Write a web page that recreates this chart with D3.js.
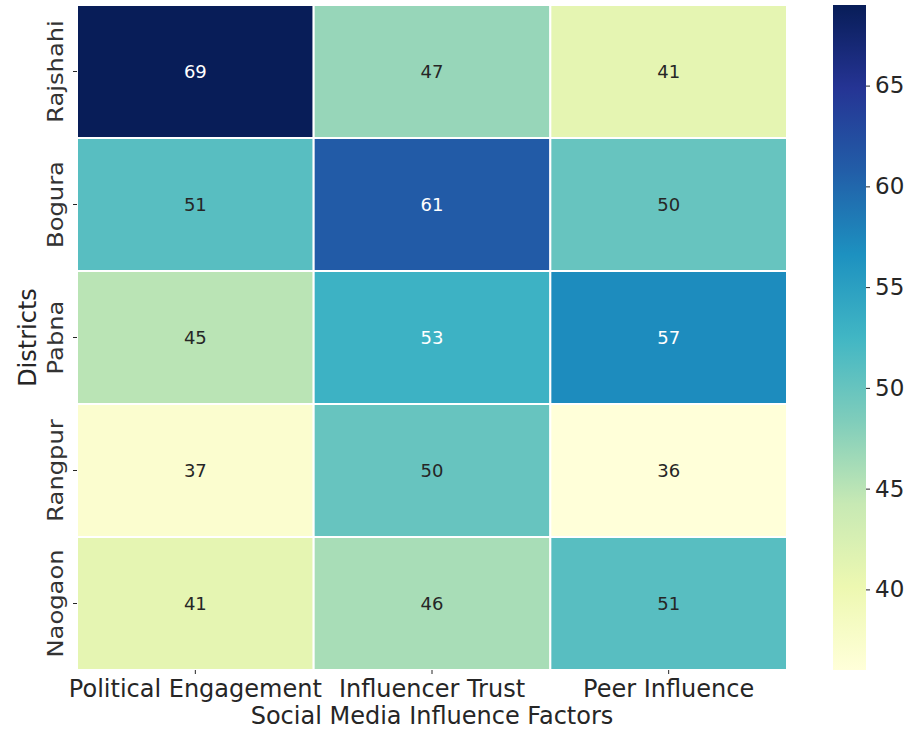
<!DOCTYPE html>
<html><head><meta charset="utf-8">
<script src="https://cdn.jsdelivr.net/npm/d3@7"></script>
<style>body{margin:0;background:#fff}svg{display:block}text{font-family:"DejaVu Sans",sans-serif}</style>
</head><body><svg id="c" width="904" height="732"></svg>
<script>
const districts = ["Rajshahi","Bogura","Pabna","Rangpur","Naogaon"];
const factors = ["Political Engagement","Influencer Trust","Peer Influence"];
const politicalEngagement = [69,51,45,37,41];
const influencerTrust = [47,61,53,50,46];
const peerInfluence = [41,50,57,36,51];
const colorbarTicks = [40,45,50,55,60,65];
const ylgnbu = ["#ffffd9","#edf8b1","#c7e9b4","#7fcdbb","#41b6c4","#1d91c0","#225ea8","#253494","#081d58"];

const series = [politicalEngagement, influencerTrust, peerInfluence];
const cells = [];
districts.forEach((d,i)=>factors.forEach((f,j)=>cells.push({d,f,v:series[j][i]})));
const vmin = d3.min(cells,c=>c.v), vmax = d3.max(cells,c=>c.v);
const color = d3.scaleLinear().domain(ylgnbu.map((_,k)=>vmin+(vmax-vmin)*k/(ylgnbu.length-1))).range(ylgnbu).clamp(true);

const svg = d3.select("#c");
const L=77,R=787,T=5,B=670;
const x = d3.scaleBand().domain(factors).range([L,R]);
const y = d3.scaleBand().domain(districts).range([T,B]);

svg.append("g").selectAll("rect").data(cells).join("rect")
  .attr("x",c=>x(c.f)).attr("y",c=>y(c.d))
  .attr("width",x.bandwidth()).attr("height",y.bandwidth())
  .attr("fill",c=>color(c.v)).attr("stroke","#fff").attr("stroke-width",2);

function lum(c){const r=d3.rgb(c);const f=v=>{v/=255;return v<=0.03928?v/12.92:Math.pow((v+0.055)/1.055,2.4)};return 0.2126*f(r.r)+0.7152*f(r.g)+0.0722*f(r.b);}
svg.append("g").selectAll("text").data(cells).join("text")
  .attr("x",c=>x(c.f)+x.bandwidth()/2).attr("y",c=>y(c.d)+y.bandwidth()/2)
  .attr("text-anchor","middle").attr("dominant-baseline","central")
  .attr("font-size",18)
  .attr("fill",c=>lum(color(c.v))>0.408?"#262626":"#ffffff")
  .text(c=>c.v);

// axes
const xa = svg.append("g").attr("transform",`translate(0,${B})`)
  .call(d3.axisBottom(x).tickSize(4).tickPadding(6));
xa.select(".domain").remove();
xa.selectAll("text").attr("font-size",24).attr("fill","#262626");
xa.selectAll("line").attr("stroke","#262626");

const ya = svg.append("g").attr("transform",`translate(${L},0)`)
  .call(d3.axisLeft(y).tickSize(4).tickPadding(6));
ya.select(".domain").remove();
ya.selectAll("line").attr("stroke","#262626");
ya.selectAll("text").attr("font-size",22).attr("fill","#333")
  .attr("text-anchor","middle").attr("x",0).attr("dy",0)
  .attr("transform",d=>`translate(-14,0) rotate(-90) scale(1.1,1)`);

svg.append("text").attr("x",(L+R)/2).attr("y",724).attr("text-anchor","middle")
  .attr("font-size",24).attr("fill","#262626").text("Social Media Influence Factors");
svg.append("text").attr("transform",`translate(36,${(T+B)/2}) rotate(-90)`).attr("text-anchor","middle")
  .attr("font-size",24).attr("fill","#262626").text("Districts");

// colorbar
const cbX=833, cbW=33;
const cy = d3.scaleLinear().domain([vmin,vmax]).range([B,T]);
const defs = svg.append("defs");
const grad = defs.append("linearGradient").attr("id","g").attr("x1",0).attr("y1",1).attr("x2",0).attr("y2",0);
ylgnbu.forEach((c,k)=>grad.append("stop").attr("offset",k/(ylgnbu.length-1)).attr("stop-color",c));
svg.append("rect").attr("x",cbX).attr("y",T).attr("width",cbW).attr("height",B-T).attr("fill","url(#g)");
const ca = svg.append("g").attr("transform",`translate(${cbX+cbW},0)`)
  .call(d3.axisRight(cy).tickValues(colorbarTicks).tickSize(4).tickPadding(5));
ca.select(".domain").remove();
ca.selectAll("line").attr("stroke","#262626");
ca.selectAll("text").attr("font-size",23).attr("fill","#262626");
</script></body></html>
